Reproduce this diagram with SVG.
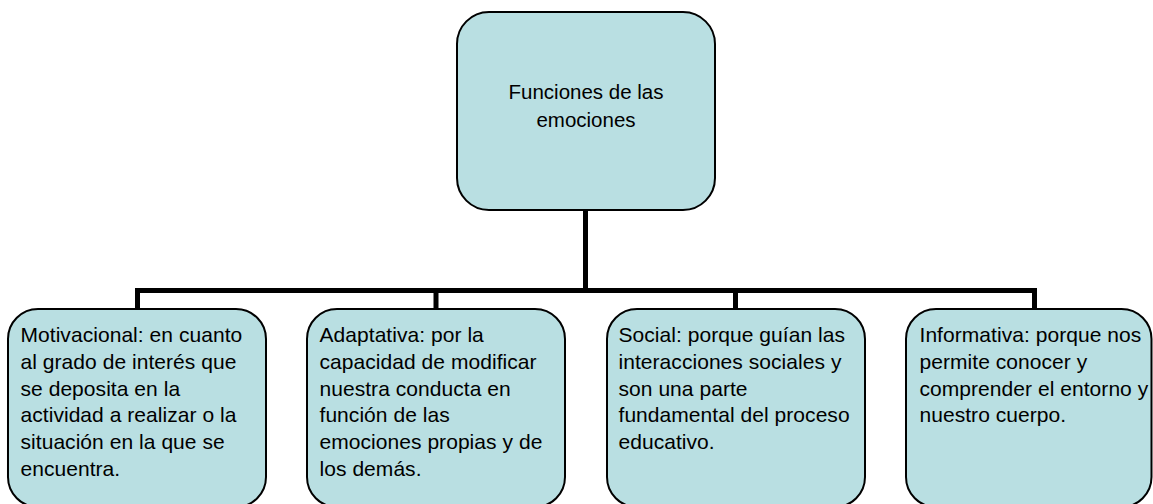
<svg xmlns="http://www.w3.org/2000/svg" width="1153" height="504" viewBox="0 0 1153 504">
<style>
.box{fill:#B9DFE2;stroke:#000;stroke-width:2}
.conn{stroke:#000;stroke-width:5;fill:none;stroke-linecap:butt}
.t{font-family:"Liberation Sans",Arial,sans-serif;font-size:21px;fill:#000;letter-spacing:0.05px}
.r{font-family:"Liberation Sans",Arial,sans-serif;font-size:20.5px;fill:#000;text-anchor:middle}
</style>
<rect width="1153" height="504" fill="#fff"/>
<g id="connectors">
<path class="conn" d="M585.5 210 V290.5 M135 290.5 H1037 M137.5 290.5 V309 M436 290.5 V309 M735.5 290.5 V309 M1034.5 290.5 V309"/>
</g>
<g id="root">
<rect class="box" x="457" y="12" width="258" height="198" rx="32" ry="32"/>
<text class="r"><tspan x="586" y="99">Funciones de las</tspan><tspan x="586" y="127">emociones</tspan></text>
</g>
<g id="motivacional">
<rect class="box" x="8" y="309" width="258" height="198" rx="30" ry="30"/>
<text class="t"><tspan x="20.5" y="342">Motivacional: en cuanto</tspan><tspan x="20.5" y="368.8">al grado de interés que</tspan><tspan x="20.5" y="395.6">se deposita en la</tspan><tspan x="20.5" y="422.4">actividad a realizar o la</tspan><tspan x="20.5" y="449.2">situación en la que se</tspan><tspan x="20.5" y="476">encuentra.</tspan></text>
</g>
<g id="adaptativa">
<rect class="box" x="307" y="309" width="258" height="198" rx="30" ry="30"/>
<text class="t"><tspan x="319.5" y="342">Adaptativa: por la</tspan><tspan x="319.5" y="368.8">capacidad de modificar</tspan><tspan x="319.5" y="395.6">nuestra conducta en</tspan><tspan x="319.5" y="422.4">función de las</tspan><tspan x="319.5" y="449.2">emociones propias y de</tspan><tspan x="319.5" y="476">los demás.</tspan></text>
</g>
<g id="social">
<rect class="box" x="607" y="309" width="258" height="198" rx="30" ry="30"/>
<text class="t"><tspan x="618.5" y="342">Social: porque guían las</tspan><tspan x="618.5" y="368.8">interacciones sociales y</tspan><tspan x="618.5" y="395.6">son una parte</tspan><tspan x="618.5" y="422.4">fundamental del proceso</tspan><tspan x="618.5" y="449.2">educativo.</tspan></text>
</g>
<g id="informativa">
<rect class="box" x="906" y="309" width="245.5" height="198" rx="30" ry="30"/>
<text class="t"><tspan x="919.5" y="342">Informativa: porque nos</tspan><tspan x="919.5" y="368.8">permite conocer y</tspan><tspan x="919.5" y="395.6">comprender el entorno y</tspan><tspan x="919.5" y="422.4">nuestro cuerpo.</tspan></text>
</g>
</svg>
